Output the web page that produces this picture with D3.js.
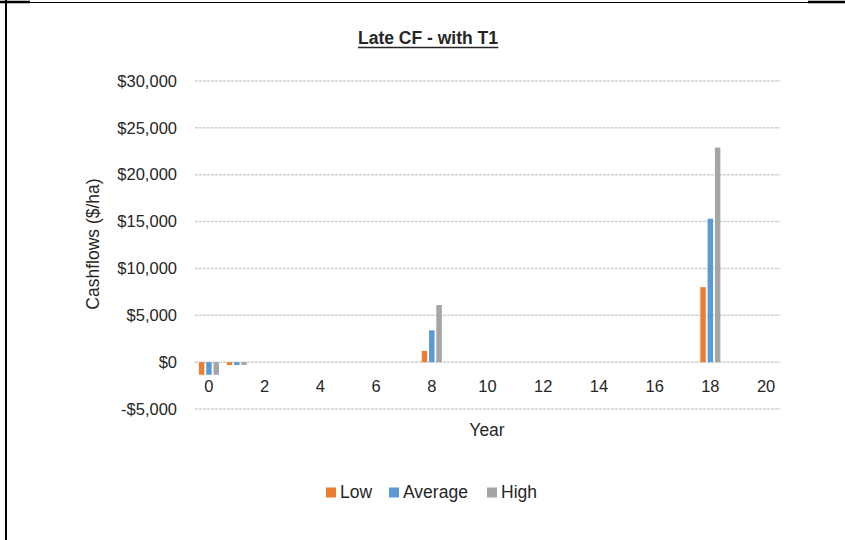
<!DOCTYPE html>
<html><head><meta charset="utf-8">
<script src="https://cdn.jsdelivr.net/npm/d3@7"></script>
<style>body{margin:0;background:#fff}svg{display:block}text{font-family:"Liberation Sans Narrow","Arial Narrow","Liberation Sans",Arial,sans-serif;fill:#262626}</style>
</head><body><svg id="c" width="845" height="540"></svg>
<script>
const years = d3.range(0, 21);
const seriesNames = ["Low", "Average", "High"];
const seriesColors = ["#ED7D31", "#5B9BD5", "#A5A5A5"];
const lowValues =     [-1350, -300, 0, 0, 0, 0, 0, 0, 1200, 0, 0, 0, 0, 0, 0, 0, 0, 0, 8000, 0, 0];
const averageValues = [-1350, -300, 0, 0, 0, 0, 0, 0, 3400, 0, 0, 0, 0, 0, 0, 0, 0, 0, 15300, 0, 0];
const highValues =    [-1350, -300, 0, 0, 0, 0, 0, 0, 6100, 0, 0, 0, 0, 0, 0, 0, 0, 0, 22900, 0, 0];
const yTicks = [-5000, 0, 5000, 10000, 15000, 20000, 25000, 30000];
const xTickLabels = [0, 2, 4, 6, 8, 10, 12, 14, 16, 18, 20];

const svg = d3.select("#c");
const L = 195, R = 780, T = 81, B = 409;

// frame lines
svg.append("line").attr("x1",0).attr("x2",845).attr("y1",2.5).attr("y2",2.5).attr("stroke","#000").attr("stroke-width",1);
svg.append("line").attr("x1",0).attr("x2",30).attr("y1",2).attr("y2",2).attr("stroke","#000").attr("stroke-width",2.5);
svg.append("line").attr("x1",808).attr("x2",845).attr("y1",2).attr("y2",2).attr("stroke","#000").attr("stroke-width",2.5);
svg.append("line").attr("x1",6).attr("x2",6).attr("y1",0).attr("y2",540).attr("stroke","#000").attr("stroke-width",2);

const y = d3.scaleLinear().domain([-5000, 30000]).range([B, T]);
const x = d3.scaleBand().domain(years).range([L, R]).paddingInner(0.28).paddingOuter(0.14);
const xs = d3.scaleBand().domain(seriesNames).range([0, x.bandwidth()]).paddingInner(0.25);

// gridlines
svg.append("g").selectAll("line").data(yTicks).join("line")
  .attr("x1", L).attr("x2", R).attr("y1", d => y(d)).attr("y2", d => y(d))
  .attr("stroke", "#cfcfcf").attr("stroke-width", 1.5).attr("stroke-dasharray", "3,1");

// y axis labels
const fmt = d => (d < 0 ? "-$" : "$") + d3.format(",")(Math.abs(d));
const yAxis = d3.axisLeft(y).tickValues(yTicks).tickFormat(fmt).tickSize(0).tickPadding(18);
const gy = svg.append("g").attr("transform", `translate(${L},0)`).call(yAxis);
gy.select(".domain").remove();
gy.selectAll("text").attr("font-size", 16.5).style("font-family", '"Liberation Sans Narrow","Arial Narrow","Liberation Sans",sans-serif').attr("fill", "#262626");

// bars
const series = [lowValues, averageValues, highValues];
series.forEach((vals, si) => {
  svg.append("g").selectAll("rect").data(years).join("rect")
    .attr("x", d => x(d) + xs(seriesNames[si]))
    .attr("width", xs.bandwidth())
    .attr("y", d => y(Math.max(0, vals[d])))
    .attr("height", d => Math.abs(y(vals[d]) - y(0)))
    .attr("fill", seriesColors[si]);
});

// x axis labels
const xAxis = d3.axisBottom(x).tickValues(xTickLabels).tickSize(0).tickPadding(18);
const gx = svg.append("g").attr("transform", `translate(0,${y(0)})`).call(xAxis);
gx.select(".domain").remove();
gx.selectAll("text").attr("font-size", 16.5).style("font-family", '"Liberation Sans Narrow","Arial Narrow","Liberation Sans",sans-serif').attr("fill", "#262626");

// title
const title = svg.append("text").attr("x", 428).attr("y", 44).attr("text-anchor", "middle")
  .attr("font-size", 17.5).attr("font-weight", "bold").text("Late CF - with T1");
const tb = title.node().getBBox();
svg.append("line").attr("x1", tb.x).attr("x2", tb.x + tb.width).attr("y1", 47.5).attr("y2", 47.5).attr("stroke", "#262626").attr("stroke-width", 1.5);

// axis titles
svg.append("text").attr("x", 487).attr("y", 436).attr("text-anchor", "middle").attr("font-size", 17.5).text("Year");
svg.append("text").attr("transform", "translate(99,244) rotate(-90)").attr("text-anchor", "middle").attr("font-size", 17.5).text("Cashflows ($/ha)");

// legend
const legX = [326, 389, 487];
const lg = svg.append("g");
seriesNames.forEach((n, i) => {
  lg.append("rect").attr("x", legX[i]).attr("y", 487.5).attr("width", 10).attr("height", 10).attr("fill", seriesColors[i]);
  lg.append("text").attr("x", legX[i] + 14).attr("y", 498).attr("font-size", 17.5).text(n);
});
</script></body></html>
